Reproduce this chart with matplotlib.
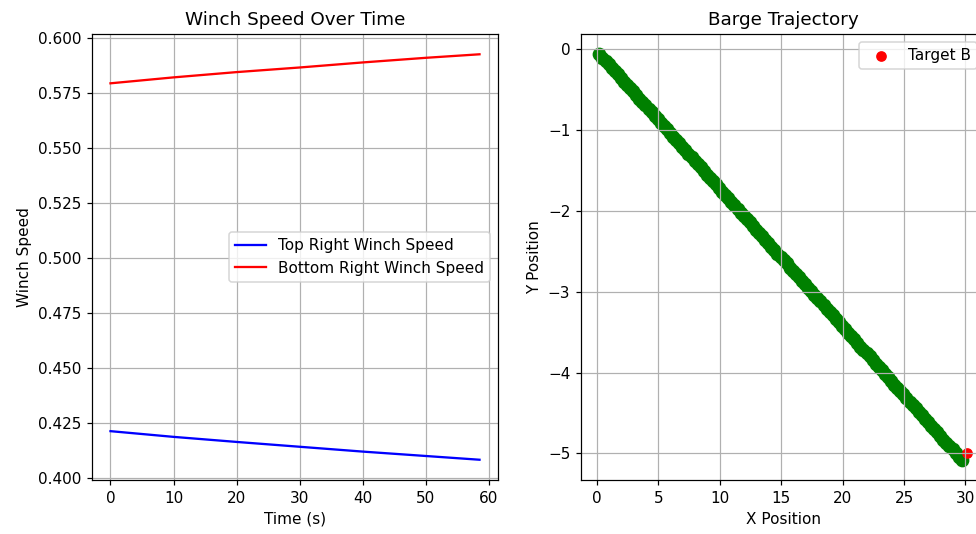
import numpy as np
import matplotlib
matplotlib.use("Agg")
import matplotlib.pyplot as plt

# winch speeds
time_s = [0, 10, 20, 30, 40, 50, 58.5]
top_right_speed = [0.4212, 0.4186, 0.4163, 0.4141, 0.4119, 0.4099, 0.4082]
bottom_right_speed = [0.5794, 0.5821, 0.5845, 0.5866, 0.5889, 0.5910, 0.5926]

# barge positions
barge_x = [0.2, 0.45, 0.7, 0.95, 1.2, 1.45, 1.7, 1.95, 2.2, 2.45,
           2.7, 2.95, 3.2, 3.45, 3.7, 3.95, 4.2, 4.45, 4.7, 4.95,
           5.2, 5.45, 5.7, 5.95, 6.2, 6.45, 6.7, 6.95, 7.2, 7.45,
           7.7, 7.95, 8.2, 8.45, 8.7, 8.95, 9.2, 9.45, 9.7, 9.95,
           10.2, 10.45, 10.7, 10.95, 11.2, 11.45, 11.7, 11.95, 12.2, 12.45,
           12.7, 12.95, 13.2, 13.45, 13.7, 13.95, 14.2, 14.45, 14.7, 14.95,
           15.2, 15.45, 15.7, 15.95, 16.2, 16.45, 16.7, 16.95, 17.2, 17.45,
           17.7, 17.95, 18.2, 18.45, 18.7, 18.95, 19.2, 19.45, 19.7, 19.95,
           20.2, 20.45, 20.7, 20.95, 21.2, 21.45, 21.7, 21.95, 22.2, 22.45,
           22.7, 22.95, 23.2, 23.45, 23.7, 23.95, 24.2, 24.45, 24.7, 24.95,
           25.2, 25.45, 25.7, 25.95, 26.2, 26.45, 26.7, 26.95, 27.2, 27.45,
           27.7, 27.95, 28.2, 28.45, 28.7, 28.95, 29.2, 29.45, 29.7]
barge_y = [-0.06, -0.10, -0.14, -0.18, -0.23, -0.27, -0.31, -0.35, -0.40, -0.44,
           -0.48, -0.52, -0.57, -0.61, -0.65, -0.69, -0.74, -0.78, -0.82, -0.86,
           -0.91, -0.95, -0.99, -1.04, -1.08, -1.12, -1.16, -1.21, -1.25, -1.29,
           -1.33, -1.38, -1.42, -1.46, -1.50, -1.55, -1.59, -1.63, -1.67, -1.72,
           -1.76, -1.80, -1.84, -1.89, -1.93, -1.97, -2.02, -2.06, -2.10, -2.14,
           -2.19, -2.23, -2.27, -2.31, -2.36, -2.40, -2.44, -2.48, -2.53, -2.57,
           -2.61, -2.65, -2.70, -2.74, -2.78, -2.82, -2.87, -2.91, -2.95, -2.99,
           -3.04, -3.08, -3.12, -3.17, -3.21, -3.25, -3.29, -3.34, -3.38, -3.42,
           -3.46, -3.51, -3.55, -3.59, -3.63, -3.68, -3.72, -3.76, -3.80, -3.85,
           -3.89, -3.93, -3.97, -4.02, -4.06, -4.10, -4.15, -4.19, -4.23, -4.27,
           -4.32, -4.36, -4.40, -4.44, -4.49, -4.53, -4.57, -4.61, -4.66, -4.70,
           -4.74, -4.78, -4.83, -4.87, -4.91, -4.95, -5.00, -5.04, -5.08]
target_b = (30.1, -5.0)

fig = plt.figure(figsize=(977 / 110, 534 / 110), dpi=110)
ax1 = fig.add_axes([0.0942, 0.1011, 0.4155, 0.8352])
ax2 = fig.add_axes([0.5947, 0.1011, 0.4135, 0.8352])

ax1.plot(time_s, top_right_speed, color='b', label='Top Right Winch Speed')
ax1.plot(time_s, bottom_right_speed, color='r', label='Bottom Right Winch Speed')
ax1.set_xlabel('Time (s)')
ax1.set_ylabel('Winch Speed')
ax1.set_title('Winch Speed Over Time')
ax1.legend(loc='center right')
ax1.grid(True)

ax2.scatter(barge_x, barge_y, color='g', s=64)
ax2.scatter(target_b[0], target_b[1], color='r', label='Target B')
ax2.set_xlabel('X Position')
ax2.set_ylabel('Y Position')
ax2.set_title('Barge Trajectory')
ax2.legend(loc='upper right')
ax2.grid(True)

fig.savefig('out.png', dpi=110)
